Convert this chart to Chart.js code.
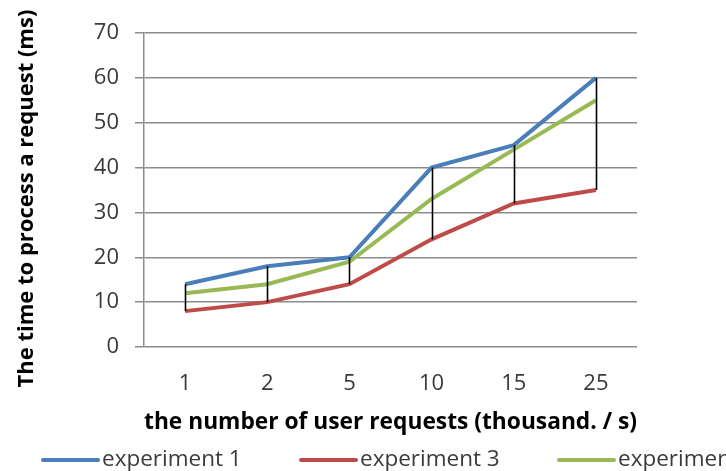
<!DOCTYPE html>
<html>
<head>
<meta charset="utf-8">
<script src="https://cdn.jsdelivr.net/npm/chart.js@4/dist/chart.umd.min.js"></script>
<style>
  html, body { margin: 0; padding: 0; background: #ffffff; overflow: hidden; }
  #wrap { width: 726px; height: 471px; }
</style>
</head>
<body>
<div id="wrap"><canvas id="c" width="726" height="471"></canvas></div>
<script>
const categories = ["1", "2", "5", "10", "15", "25"];
const experiment1 = [14, 18, 20, 40, 45, 60];
const experiment3 = [8, 10, 14, 24, 32, 35];
const experiment2 = [12, 14, 19, 33, 44, 55];
const seriesLabels = ["experiment 1", "experiment 3", "experiment 2"];
const yTicks = [0, 10, 20, 30, 40, 50, 60, 70];

const FONT = "'Open Sans', Lato, 'Liberation Sans', sans-serif";
const TEXT = "#3a3a3a";
const GRID = "#8c8c8c";

const highLowPlugin = {
  id: 'highLow',
  afterDatasetsDraw(chart) {
    const {ctx, scales: {x, y}} = chart;
    const sets = chart.data.datasets;
    ctx.save();
    ctx.strokeStyle = '#000000';
    ctx.lineWidth = 1.6;
    categories.forEach((c, i) => {
      const vals = sets.map(d => d.data[i]);
      const hi = Math.max(...vals), lo = Math.min(...vals);
      const px = Math.round(x.getPixelForValue(i)) + 0.5;
      ctx.beginPath();
      ctx.moveTo(px, y.getPixelForValue(hi));
      ctx.lineTo(px, y.getPixelForValue(lo));
      ctx.stroke();
    });
    ctx.restore();
  }
};

const legendPlugin = {
  id: 'customLegend',
  afterDraw(chart) {
    const {ctx} = chart;
    const startX = 43, step = 258, lineLen = 55, yc = 460;
    ctx.save();
    ctx.font = "22.5px " + FONT;
    ctx.textBaseline = 'middle';
    ctx.textAlign = 'left';
    chart.data.datasets.forEach((d, i) => {
      const x0 = startX + i * step;
      ctx.strokeStyle = d.borderColor;
      ctx.lineWidth = 4;
      ctx.lineCap = 'round';
      ctx.beginPath();
      ctx.moveTo(x0, yc);
      ctx.lineTo(x0 + lineLen, yc);
      ctx.stroke();
      ctx.fillStyle = TEXT;
      ctx.fillText(d.label, x0 + lineLen + 4, yc);
    });
    ctx.restore();
  }
};

new Chart(document.getElementById('c'), {
  type: 'line',
  data: {
    labels: categories,
    datasets: [
      { label: seriesLabels[0], data: experiment1, borderColor: '#4a7ebb', backgroundColor: '#4a7ebb', borderWidth: 4, pointRadius: 0, tension: 0 },
      { label: seriesLabels[1], data: experiment3, borderColor: '#be4b48', backgroundColor: '#be4b48', borderWidth: 4, pointRadius: 0, tension: 0 },
      { label: seriesLabels[2], data: experiment2, borderColor: '#98b954', backgroundColor: '#98b954', borderWidth: 4, pointRadius: 0, tension: 0 }
    ]
  },
  options: {
    responsive: false,
    animation: false,
    layout: { padding: { top: 33, right: 89, left: 0, bottom: 0 } },
    plugins: { legend: { display: false }, tooltip: { enabled: false } },
    scales: {
      x: {
        offset: true,
        grid: { display: false },
        border: { display: false },
        ticks: { color: TEXT, font: { family: FONT, size: 22 }, padding: 16, maxRotation: 0 },
        title: { display: true, text: 'the number of user requests (thousand. / s)', color: '#000000',
                 font: { family: FONT, size: 23, weight: 'bold' }, padding: { top: 0, bottom: 35 } },
        afterFit(s) { s.height = 124; }
      },
      y: {
        min: 0, max: 70,
        afterBuildTicks(s) { s.ticks = yTicks.map(v => ({ value: v })); },
        grid: { color: GRID, lineWidth: 1.5, tickLength: 9, drawTicks: true },
        border: { display: true, color: GRID, width: 1.5 },
        ticks: { color: TEXT, font: { family: FONT, size: 22 }, padding: 16 },
        title: { display: true, text: 'The time to process a request (ms)\u00a0\u00a0\u00a0', color: '#000000',
                 font: { family: FONT, size: 22, weight: 'bold' }, padding: { top: 14, bottom: 0 } },
        afterFit(s) { s.width = 144; }
      }
    }
  },
  plugins: [highLowPlugin, legendPlugin]
});
</script>
</body>
</html>
